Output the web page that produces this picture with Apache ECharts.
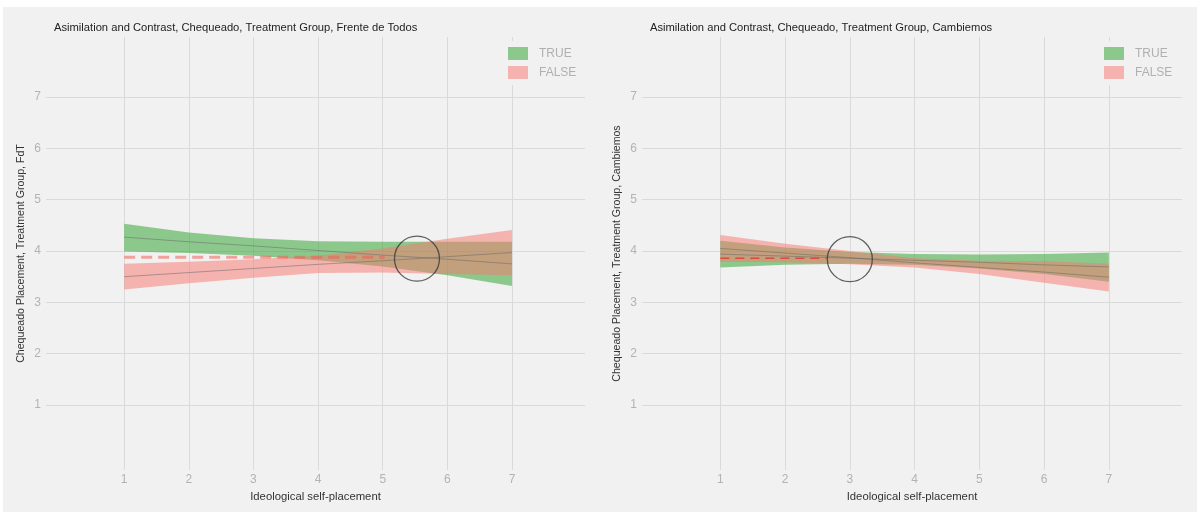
<!DOCTYPE html>
<html>
<head>
<meta charset="utf-8">
<script src="https://cdn.jsdelivr.net/npm/echarts@6/dist/echarts.min.js"></script>
<style>
html,body{margin:0;padding:0;background:#ffffff;}
#chart{width:1200px;height:514px;}
</style>
</head>
<body>
<div id="chart"></div>
<script>
// ---------- data ----------
const xValues = [1, 2, 3, 4, 5, 6, 7];
const xTicks = [1, 2, 3, 4, 5, 6, 7];
const yTicks = [1, 2, 3, 4, 5, 6, 7];
const legendNames = ['TRUE', 'FALSE'];

const titles = [
  'Asimilation and Contrast, Chequeado, Treatment Group, Frente de Todos',
  'Asimilation and Contrast, Chequeado, Treatment Group, Cambiemos'
];
const yTitles = [
  'Chequeado Placement, Treatment Group, FdT',
  'Chequeado Placement, Treatment Group, Cambiemos'
];
const xTitle = 'Ideological self-placement';

// Left panel: Frente de Todos
const fdtTrueUpper  = [4.53, 4.36, 4.25, 4.19, 4.18, 4.18, 4.18];
const fdtTrueLower  = [3.99, 3.96, 3.91, 3.82, 3.70, 3.53, 3.32];
const fdtTrueFit    = [4.27, 4.18, 4.10, 4.01, 3.92, 3.84, 3.75];
const fdtFalseUpper = [3.75, 3.79, 3.84, 3.91, 4.05, 4.24, 4.41];
const fdtFalseLower = [3.25, 3.37, 3.48, 3.57, 3.58, 3.55, 3.53];
const fdtFalseFit   = [3.50, 3.58, 3.66, 3.74, 3.81, 3.89, 3.97];
const fdtDashX = [1, 5.03];
const fdtDashY = 3.88;
const fdtCircle = [5.53, 3.85];

// Right panel: Cambiemos
const cbTrueUpper  = [4.20, 4.07, 3.98, 3.94, 3.93, 3.94, 3.97];
const cbTrueLower  = [3.68, 3.73, 3.75, 3.73, 3.66, 3.55, 3.40];
const cbTrueFit    = [3.94, 3.90, 3.86, 3.82, 3.78, 3.73, 3.69];
const cbFalseUpper = [4.31, 4.14, 4.00, 3.86, 3.81, 3.80, 3.75];
const cbFalseLower = [3.79, 3.78, 3.74, 3.68, 3.55, 3.38, 3.21];
const cbFalseFit   = [4.05, 3.96, 3.87, 3.77, 3.68, 3.59, 3.49];
const cbDashX = [1, 2.64];
const cbDashY = 3.86;
const cbCircle = [3.0, 3.84];

// ---------- styling ----------
const GREEN = 'rgba(39,159,39,0.5)';
const PINK = 'rgba(248,118,109,0.5)';
const BG = '#f1f1f1';
const GRIDC = '#dadada';
const FONT = '"Liberation Sans", Arial, sans-serif';

const panels = [
  { tu: fdtTrueUpper, tl: fdtTrueLower, tf: fdtTrueFit, fu: fdtFalseUpper, fl: fdtFalseLower, ff: fdtFalseFit,
    dx: fdtDashX, dy: fdtDashY, circ: fdtCircle,
    dash: { color: 'rgba(240,95,85,0.55)', width: 3, type: [11, 6] } },
  { tu: cbTrueUpper, tl: cbTrueLower, tf: cbTrueFit, fu: cbFalseUpper, fl: cbFalseLower, ff: cbFalseFit,
    dx: cbDashX, dy: cbDashY, circ: cbCircle,
    dash: { color: 'rgba(226,60,50,0.85)', width: 1.5, type: [9, 6] } }
];

const gridPos = [
  { left: 46, top: 37, width: 539, height: 433 },
  { left: 642, top: 37, width: 540, height: 433 }
];

function pairs(ys) { return xValues.map((x, k) => [x, ys[k]]); }
function bandData(lo, hi) { return xValues.map((x, k) => [x, lo[k], hi[k]]); }

function makeBand(name, lo, hi, color, i) {
  const rows = bandData(lo, hi);
  return {
    type: 'custom', name: name, xAxisIndex: i, yAxisIndex: i, silent: true, z: 2,
    itemStyle: { color: color },
    encode: { x: 0, y: [1, 2] },
    data: rows,
    renderItem: function (params, api) {
      if (params.dataIndex !== 0) return null;
      const upperPts = rows.map(r => api.coord([r[0], r[2]]));
      const lowerPts = rows.map(r => api.coord([r[0], r[1]])).reverse();
      return {
        type: 'polygon',
        shape: { points: upperPts.concat(lowerPts) },
        style: { fill: color, stroke: null }
      };
    }
  };
}

const series = [];
panels.forEach((p, i) => {
  const ax = { xAxisIndex: i, yAxisIndex: i };
  // gridlines via markLine
  series.push(Object.assign({
    type: 'line', name: 'grid' + i, data: pairs(p.tf), showSymbol: false, silent: true,
    lineStyle: { opacity: 0 }, z: 1,
    markLine: {
      silent: true, symbol: ['none', 'none'], label: { show: false }, z: 1,
      lineStyle: { color: GRIDC, width: 1, type: 'solid' },
      data: xTicks.map(v => ({ xAxis: v })).concat(yTicks.map(v => ({ yAxis: v })))
    }
  }, ax));
  series.push(makeBand('TRUE', p.tl, p.tu, GREEN, i));
  series.push(makeBand('FALSE', p.fl, p.fu, PINK, i));
  // fitted lines
  series.push(Object.assign({ type: 'line', name: 'fitT' + i, data: pairs(p.tf), showSymbol: false, silent: true,
    lineStyle: { color: '#666', width: 1, opacity: 0.5 }, z: 3 }, ax));
  series.push(Object.assign({ type: 'line', name: 'fitF' + i, data: pairs(p.ff), showSymbol: false, silent: true,
    lineStyle: { color: '#666', width: 1, opacity: 0.5 }, z: 3 }, ax));
  // dashed reference
  series.push(Object.assign({ type: 'line', name: 'dash' + i, data: p.dx.map(x => [x, p.dy]), showSymbol: false,
    silent: true, lineStyle: p.dash, z: 4 }, ax));
  // circle annotation
  series.push(Object.assign({ type: 'scatter', name: 'circle' + i, data: [p.circ], symbol: 'circle', symbolSize: 45,
    silent: true, itemStyle: { color: 'rgba(0,0,0,0)', borderColor: '#3a3a3a', borderWidth: 1.3 }, z: 5 }, ax));
});

const chart = echarts.init(document.getElementById('chart'), null, { renderer: 'canvas' });
const tickFmt = v => (Math.abs(v - Math.round(v)) < 1e-6 && v >= 1 && v <= 7) ? String(Math.round(v)) : '';

chart.setOption({
  animation: false,
  backgroundColor: '#ffffff',
  textStyle: { fontFamily: FONT },
  graphic: [{ type: 'rect', shape: { x: 3, y: 7, width: 1194, height: 505 }, style: { fill: BG }, z: 0, silent: true }],
  title: titles.map((t, i) => ({
    text: t, left: i === 0 ? 54 : 650, top: 22, padding: 0,
    textStyle: { fontSize: 11.2, fontWeight: 'normal', color: '#222', fontFamily: FONT }
  })),
  legend: [0, 1].map(i => ({
    orient: 'vertical', left: i === 0 ? 502 : 1098, top: 41, padding: [6, 10, 6, 6],
    backgroundColor: BG, itemWidth: 20, itemHeight: 13, itemGap: 6, selectedMode: false, icon: 'rect',
    textStyle: { color: '#b0b0b0', fontSize: 12, fontFamily: FONT, padding: [0, 0, 0, 6] },
    data: [{ name: legendNames[0], itemStyle: { color: GREEN } }, { name: legendNames[1], itemStyle: { color: PINK } }]
  })),
  grid: gridPos.map(g => Object.assign({ containLabel: false }, g)),
  xAxis: [0, 1].map(i => ({
    type: 'value', gridIndex: i, min: -0.21, max: 8.13,
    name: xTitle, nameLocation: 'middle', nameGap: 17,
    nameTextStyle: { fontSize: 11.3, color: '#333', fontFamily: FONT },
    axisLine: { show: false }, axisTick: { show: false }, splitLine: { show: false },
    axisLabel: { customValues: xTicks, formatter: tickFmt, color: '#b3b3b3', fontSize: 12, margin: 4, fontFamily: FONT }
  })),
  yAxis: [0, 1].map(i => ({
    type: 'value', gridIndex: i, min: -0.266, max: 8.169,
    name: yTitles[i], nameLocation: 'middle', nameGap: 19, nameRotate: 90,
    nameTextStyle: { fontSize: 10.6, color: '#333', fontFamily: FONT },
    axisLine: { show: false }, axisTick: { show: false }, splitLine: { show: false },
    axisLabel: { customValues: yTicks, formatter: tickFmt, color: '#b3b3b3', fontSize: 12, margin: 5, fontFamily: FONT }
  })),
  series: series
});
</script>
</body>
</html>
